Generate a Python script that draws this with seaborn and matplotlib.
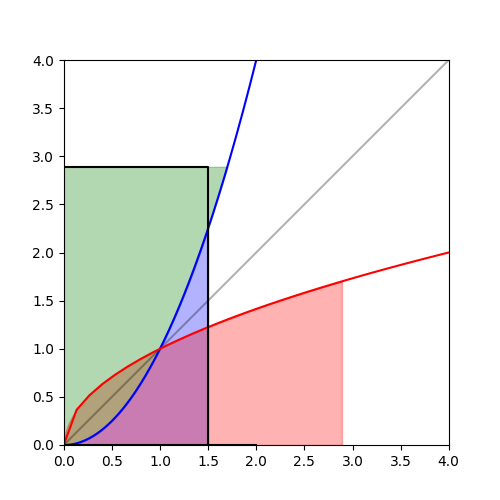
import numpy as np
import pandas as pd
import matplotlib
matplotlib.use("Agg")
import matplotlib.pyplot as plt
import seaborn as sns

# Young's inequality picture: f(x) = x^2, inverse g(y) = sqrt(y)
a = 1.5
b = 2.89
axis_max = 4.0
base_end = 2.0

x_sq = np.linspace(0, 2, 200)
x_rt = np.linspace(0, 4, 31)
sq_df = pd.DataFrame({"x": x_sq, "y": x_sq ** 2})
rt_df = pd.DataFrame({"x": x_rt, "y": np.sqrt(x_rt)})

fig, ax = plt.subplots(figsize=(5, 5), dpi=100)

# filled areas
xa = np.linspace(0, a, 200)
ax.fill_between(xa, 0, xa ** 2, color="b", alpha=0.3)
xb = np.linspace(0, b, 200)
ax.fill_between(xb, 0, np.sqrt(xb), color="r", alpha=0.3)
yb = np.linspace(0, b, 200)
ax.fill_betweenx(yb, 0, np.sqrt(yb), color="g", alpha=0.3)

# diagonal y = x
sns.lineplot(x=[0, axis_max], y=[0, axis_max], color="k", alpha=0.3, ax=ax)

# curves
sns.lineplot(data=sq_df, x="x", y="y", color="b", sort=False, estimator=None, ax=ax)
sns.lineplot(data=rt_df, x="x", y="y", color="r", sort=False, estimator=None, ax=ax)

# rectangle a x b
sns.lineplot(x=[0, a, a], y=[b, b, 0], color="k", sort=False, estimator=None, ax=ax)
sns.lineplot(x=[0, base_end], y=[0, 0], color="k", estimator=None, ax=ax)

ax.set_xlim(0, axis_max)
ax.set_ylim(0, axis_max)
ax.set_aspect("equal")
ax.set_xlabel("")
ax.set_ylabel("")

plt.savefig("out.png", dpi=100)
